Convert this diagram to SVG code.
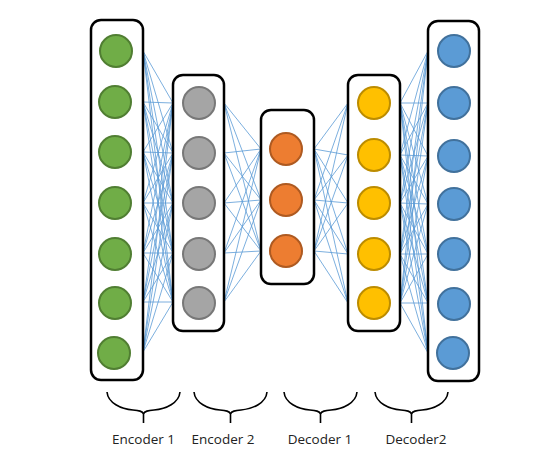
<svg xmlns="http://www.w3.org/2000/svg" width="559" height="460" viewBox="0 0 559 460">
<style>
.box{fill:#fff;stroke:#000;stroke-width:2.5}
.c{stroke-width:2}
.g{fill:#70ad47;stroke:#507e32}
.y{fill:#a5a5a5;stroke:#787878}
.o{fill:#ed7d31;stroke:#ae5a21}
.u{fill:#ffc000;stroke:#bc8c00}
.b{fill:#5b9bd5;stroke:#41719c}
#connectors line{stroke:#5b9bd5;stroke-width:0.8}
.brace{fill:none;stroke:#000;stroke-width:1.6}
text{font-family:"Open Sans","Liberation Sans",Arial,sans-serif;font-size:13.5px;fill:#222;text-anchor:middle}
</style>
<rect width="559" height="460" fill="#fff"/>
<g id="connectors">
<line x1="143" y1="51" x2="173" y2="103"/><line x1="143" y1="51" x2="173" y2="153"/><line x1="143" y1="51" x2="173" y2="203"/><line x1="143" y1="51" x2="173" y2="253"/><line x1="143" y1="51" x2="173" y2="302"/>
<line x1="143" y1="102" x2="173" y2="103"/><line x1="143" y1="102" x2="173" y2="153"/><line x1="143" y1="102" x2="173" y2="203"/><line x1="143" y1="102" x2="173" y2="253"/><line x1="143" y1="102" x2="173" y2="302"/>
<line x1="143" y1="152" x2="173" y2="103"/><line x1="143" y1="152" x2="173" y2="153"/><line x1="143" y1="152" x2="173" y2="203"/><line x1="143" y1="152" x2="173" y2="253"/><line x1="143" y1="152" x2="173" y2="302"/>
<line x1="143" y1="203" x2="173" y2="103"/><line x1="143" y1="203" x2="173" y2="153"/><line x1="143" y1="203" x2="173" y2="203"/><line x1="143" y1="203" x2="173" y2="253"/><line x1="143" y1="203" x2="173" y2="302"/>
<line x1="143" y1="253" x2="173" y2="103"/><line x1="143" y1="253" x2="173" y2="153"/><line x1="143" y1="253" x2="173" y2="203"/><line x1="143" y1="253" x2="173" y2="253"/><line x1="143" y1="253" x2="173" y2="302"/>
<line x1="143" y1="302" x2="173" y2="103"/><line x1="143" y1="302" x2="173" y2="153"/><line x1="143" y1="302" x2="173" y2="203"/><line x1="143" y1="302" x2="173" y2="253"/><line x1="143" y1="302" x2="173" y2="302"/>
<line x1="143" y1="352" x2="173" y2="103"/><line x1="143" y1="352" x2="173" y2="153"/><line x1="143" y1="352" x2="173" y2="203"/><line x1="143" y1="352" x2="173" y2="253"/><line x1="143" y1="352" x2="173" y2="302"/>
<line x1="224" y1="103" x2="261" y2="149"/><line x1="224" y1="103" x2="261" y2="200"/><line x1="224" y1="103" x2="261" y2="251"/>
<line x1="224" y1="153" x2="261" y2="149"/><line x1="224" y1="153" x2="261" y2="200"/><line x1="224" y1="153" x2="261" y2="251"/>
<line x1="224" y1="203" x2="261" y2="149"/><line x1="224" y1="203" x2="261" y2="200"/><line x1="224" y1="203" x2="261" y2="251"/>
<line x1="224" y1="253" x2="261" y2="149"/><line x1="224" y1="253" x2="261" y2="200"/><line x1="224" y1="253" x2="261" y2="251"/>
<line x1="224" y1="302" x2="261" y2="149"/><line x1="224" y1="302" x2="261" y2="200"/><line x1="224" y1="302" x2="261" y2="251"/>
<line x1="314" y1="149" x2="348" y2="103"/><line x1="314" y1="149" x2="348" y2="155"/><line x1="314" y1="149" x2="348" y2="203"/><line x1="314" y1="149" x2="348" y2="254"/><line x1="314" y1="149" x2="348" y2="303"/>
<line x1="314" y1="200" x2="348" y2="103"/><line x1="314" y1="200" x2="348" y2="155"/><line x1="314" y1="200" x2="348" y2="203"/><line x1="314" y1="200" x2="348" y2="254"/><line x1="314" y1="200" x2="348" y2="303"/>
<line x1="314" y1="251" x2="348" y2="103"/><line x1="314" y1="251" x2="348" y2="155"/><line x1="314" y1="251" x2="348" y2="203"/><line x1="314" y1="251" x2="348" y2="254"/><line x1="314" y1="251" x2="348" y2="303"/>
<line x1="400" y1="103" x2="428" y2="51"/><line x1="400" y1="103" x2="428" y2="103"/><line x1="400" y1="103" x2="428" y2="156"/><line x1="400" y1="103" x2="428" y2="204"/><line x1="400" y1="103" x2="428" y2="254"/><line x1="400" y1="103" x2="428" y2="303"/><line x1="400" y1="103" x2="428" y2="353"/>
<line x1="400" y1="155" x2="428" y2="51"/><line x1="400" y1="155" x2="428" y2="103"/><line x1="400" y1="155" x2="428" y2="156"/><line x1="400" y1="155" x2="428" y2="204"/><line x1="400" y1="155" x2="428" y2="254"/><line x1="400" y1="155" x2="428" y2="303"/><line x1="400" y1="155" x2="428" y2="353"/>
<line x1="400" y1="203" x2="428" y2="51"/><line x1="400" y1="203" x2="428" y2="103"/><line x1="400" y1="203" x2="428" y2="156"/><line x1="400" y1="203" x2="428" y2="204"/><line x1="400" y1="203" x2="428" y2="254"/><line x1="400" y1="203" x2="428" y2="303"/><line x1="400" y1="203" x2="428" y2="353"/>
<line x1="400" y1="254" x2="428" y2="51"/><line x1="400" y1="254" x2="428" y2="103"/><line x1="400" y1="254" x2="428" y2="156"/><line x1="400" y1="254" x2="428" y2="204"/><line x1="400" y1="254" x2="428" y2="254"/><line x1="400" y1="254" x2="428" y2="303"/><line x1="400" y1="254" x2="428" y2="353"/>
<line x1="400" y1="303" x2="428" y2="51"/><line x1="400" y1="303" x2="428" y2="103"/><line x1="400" y1="303" x2="428" y2="156"/><line x1="400" y1="303" x2="428" y2="204"/><line x1="400" y1="303" x2="428" y2="254"/><line x1="400" y1="303" x2="428" y2="303"/><line x1="400" y1="303" x2="428" y2="353"/>
</g>
<g id="encoder1">
<rect class="box" x="91" y="20" width="52" height="360" rx="10"/>
<circle class="c g" cx="116" cy="51" r="16"/>
<circle class="c g" cx="115" cy="102" r="16"/>
<circle class="c g" cx="115" cy="152" r="16"/>
<circle class="c g" cx="115" cy="203" r="16"/>
<circle class="c g" cx="115" cy="254" r="16"/>
<circle class="c g" cx="115" cy="303" r="16"/>
<circle class="c g" cx="114" cy="353" r="16"/>
</g>
<g id="encoder2">
<rect class="box" x="173" y="75" width="51" height="256" rx="10"/>
<circle class="c y" cx="199" cy="103" r="16"/>
<circle class="c y" cx="199" cy="153" r="16"/>
<circle class="c y" cx="199" cy="203" r="16"/>
<circle class="c y" cx="199" cy="254" r="16"/>
<circle class="c y" cx="199" cy="303" r="16"/>
</g>
<g id="decoder1">
<rect class="box" x="261" y="110" width="53" height="174" rx="10"/>
<circle class="c o" cx="286" cy="149" r="16"/>
<circle class="c o" cx="286" cy="200" r="16"/>
<circle class="c o" cx="286" cy="251" r="16"/>
</g>
<g id="decoder1b">
<rect class="box" x="348" y="75" width="52" height="256" rx="10"/>
<circle class="c u" cx="374" cy="103" r="16"/>
<circle class="c u" cx="374" cy="155" r="16"/>
<circle class="c u" cx="374" cy="203" r="16"/>
<circle class="c u" cx="374" cy="254" r="16"/>
<circle class="c u" cx="374" cy="303" r="16"/>
</g>
<g id="decoder2">
<rect class="box" x="428" y="21" width="51" height="360" rx="10"/>
<circle class="c b" cx="454" cy="51" r="16"/>
<circle class="c b" cx="454" cy="103" r="16"/>
<circle class="c b" cx="454" cy="156" r="16"/>
<circle class="c b" cx="454" cy="204" r="16"/>
<circle class="c b" cx="454" cy="254" r="16"/>
<circle class="c b" cx="454" cy="304" r="16"/>
<circle class="c b" cx="453" cy="353" r="16"/>
</g>
<g id="labels">
<path class="brace" d="M107,392 C108,403 121,409 133,410 C139,410.5 142.5,411 143.5,414 L143.5,423 M143.5,414 C144.5,411 148,410.5 154,410 C166,409 179,403 180,392"/>
<path class="brace" d="M194,392 C195,403 208,409 220,410 C226,410.5 229.5,411 230.5,414 L230.5,423 M230.5,414 C231.5,411 235,410.5 241,410 C253,409 266,403 267,392"/>
<path class="brace" d="M284,392 C285,403 298,409 310,410 C316,410.5 319.5,411 320.5,414 L320.5,423 M320.5,414 C321.5,411 325,410.5 331,410 C343,409 356,403 357,392"/>
<path class="brace" d="M375,392 C376,403 389,409 401,410 C407,410.5 410.5,411 411.5,414 L411.5,423 M411.5,414 C412.5,411 416,410.5 422,410 C434,409 447,403 448,392"/>
<text x="143.5" y="444">Encoder 1</text>
<text x="223" y="444">Encoder 2</text>
<text x="320" y="444">Decoder 1</text>
<text x="416" y="444">Decoder2</text>
</g>
</svg>
